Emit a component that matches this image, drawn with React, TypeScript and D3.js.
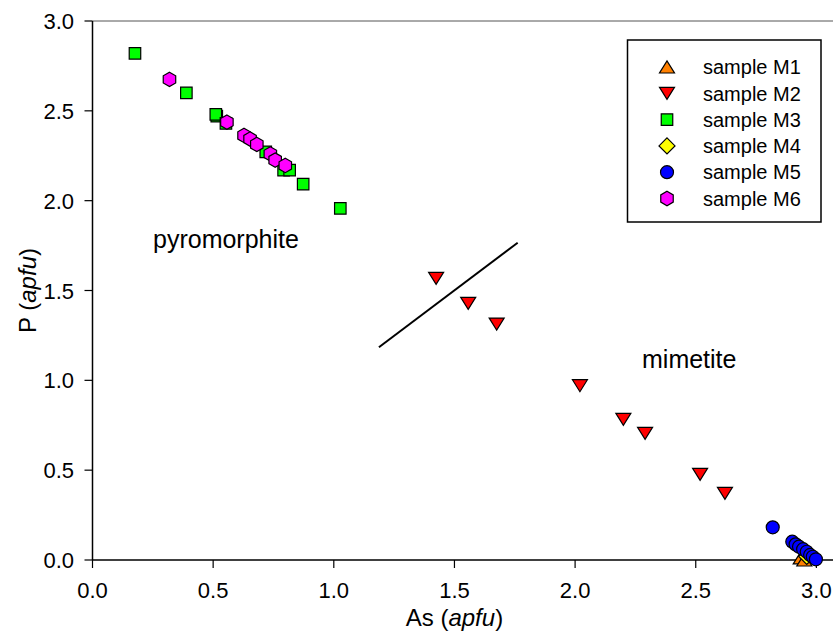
import React from "react";
import * as d3 from "d3";

const seriesNames = ["sample M1", "sample M2", "sample M3", "sample M4", "sample M5", "sample M6"];
const seriesColors = ["#FF8000", "#FF0000", "#00FF00", "#FFFF00", "#0000FF", "#FF00FF"];
const seriesShapes = ["triUp", "triDown", "square", "diamond", "circle", "hexagon"];

const m1As = [2.935, 2.95];
const m1P = [0.012, 0.0];

const m2As = [1.424, 1.557, 1.675, 2.02, 2.2, 2.29, 2.518, 2.621];
const m2P = [1.568, 1.428, 1.313, 0.97, 0.783, 0.705, 0.477, 0.371];

const m3As = [0.176, 0.389, 0.515, 0.511, 0.553, 0.718, 0.792, 0.817, 0.873, 1.027];
const m3P = [2.82, 2.6, 2.47, 2.48, 2.43, 2.272, 2.17, 2.17, 2.092, 1.957];

const m4As = [2.96];
const m4P = [0.02];

const m5As = [2.819, 2.9, 2.914, 2.928, 2.945, 2.96, 2.974, 2.985, 2.998];
const m5P = [0.182, 0.102, 0.087, 0.074, 0.06, 0.046, 0.028, 0.018, 0.004];

const m6As = [0.319, 0.557, 0.628, 0.653, 0.681, 0.737, 0.757, 0.799];
const m6P = [2.675, 2.437, 2.363, 2.343, 2.313, 2.26, 2.226, 2.196];

const seriesAs = [m1As, m2As, m3As, m4As, m5As, m6As];
const seriesP = [m1P, m2P, m3P, m4P, m5P, m6P];

const xTicks = [0, 0.5, 1.0, 1.5, 2.0, 2.5, 3.0];
const yTicks = [0, 0.5, 1.0, 1.5, 2.0, 2.5, 3.0];

const boundaryAs = [1.187, 1.762];
const boundaryP = [1.184, 1.766];

const FONT = "'Liberation Sans', Arial, sans-serif";

function shapePath(shape: string, cx: number, cy: number): string {
  switch (shape) {
    case "triUp": {
      const w = 15, h = 12;
      return `M${cx - w / 2},${cy + h / 2}L${cx + w / 2},${cy + h / 2}L${cx},${cy - h / 2}Z`;
    }
    case "triDown": {
      const w = 15, h = 12;
      return `M${cx - w / 2},${cy - h / 2}L${cx + w / 2},${cy - h / 2}L${cx},${cy + h / 2}Z`;
    }
    case "square": {
      const s = 11.5;
      return `M${cx - s / 2},${cy - s / 2}h${s}v${s}h${-s}Z`;
    }
    case "diamond": {
      const r = 8;
      return `M${cx},${cy - r}L${cx + r},${cy}L${cx},${cy + r}L${cx - r},${cy}Z`;
    }
    case "circle": {
      const r = 6.5;
      return `M${cx + r},${cy}A${r},${r} 0 1,1 ${cx - r},${cy}A${r},${r} 0 1,1 ${cx + r},${cy}Z`;
    }
    case "hexagon": {
      const r = 7.2;
      const pts = d3.range(6).map((i) => {
        const a = (Math.PI / 3) * i - Math.PI / 2;
        return [cx + r * Math.cos(a), cy + r * Math.sin(a)];
      });
      return "M" + pts.map((p) => p.join(",")).join("L") + "Z";
    }
  }
  return "";
}

export default function App() {
  const W = 833, H = 631;
  const x = d3.scaleLinear().domain([0, 3]).range([92.5, 816.4]);
  const y = d3.scaleLinear().domain([0, 3]).range([560, 21]);
  const fmt = d3.format(".1f");
  const line = d3.line<number>().x((_, i) => x(boundaryAs[i])).y((_, i) => y(boundaryP[i]));

  const legendX = 627.5, legendY = 40, legendW = 193.5, legendH = 182;

  return (
    <svg width={W} height={H} style={{ position: "absolute", left: 0, top: 0, background: "#fff" }}>
      <rect x={0} y={0} width={W} height={H} fill="#fff" />
      {/* frame top */}
      <line x1={x(0)} x2={W} y1={y(3)} y2={y(3)} stroke="#555" strokeWidth={1} />
      {/* axes */}
      <line x1={x(0)} x2={W} y1={y(0)} y2={y(0)} stroke="#000" strokeWidth={1.5} />
      <line x1={x(0)} x2={x(0)} y1={y(0)} y2={y(3)} stroke="#000" strokeWidth={1.5} />
      {xTicks.map((t) => (
        <g key={"xt" + t}>
          <line x1={x(t)} x2={x(t)} y1={y(0)} y2={y(0) + 8} stroke="#000" strokeWidth={1.2} />
          <text x={x(t)} y={598} textAnchor="middle" fontFamily={FONT} fontSize={22} fill="#000">
            {fmt(t)}
          </text>
        </g>
      ))}
      {yTicks.map((t) => (
        <g key={"yt" + t}>
          <line x1={x(0) - 8} x2={x(0)} y1={y(t)} y2={y(t)} stroke="#000" strokeWidth={1.2} />
          <text x={74} y={y(t) + 8} textAnchor="end" fontFamily={FONT} fontSize={22} fill="#000">
            {fmt(t)}
          </text>
        </g>
      ))}
      <text x={(x(0) + x(3)) / 2} y={626} textAnchor="middle" fontFamily={FONT} fontSize={24} fill="#000">
        As (<tspan fontStyle="italic">apfu</tspan>)
      </text>
      <text
        transform={`translate(36, ${(y(0) + y(3)) / 2}) rotate(-90)`}
        textAnchor="middle"
        fontFamily={FONT}
        fontSize={24}
        fill="#000"
      >
        P (<tspan fontStyle="italic">apfu</tspan>)
      </text>

      {/* boundary line */}
      <path d={line(boundaryAs) || ""} stroke="#000" strokeWidth={2} fill="none" />

      {/* annotations */}
      <text x={153} y={248} fontFamily={FONT} fontSize={25} fill="#000">pyromorphite</text>
      <text x={642} y={368} fontFamily={FONT} fontSize={25} fill="#000">mimetite</text>

      {/* data */}
      {seriesNames.map((name, si) => (
        <g key={name}>
          {seriesAs[si].map((a, i) => (
            <path
              key={i}
              d={shapePath(seriesShapes[si], x(a), y(seriesP[si][i]))}
              fill={seriesColors[si]}
              stroke="#000"
              strokeWidth={1.2}
            />
          ))}
        </g>
      ))}

      {/* legend */}
      <rect x={legendX} y={legendY} width={legendW} height={legendH} fill="#fff" stroke="#000" strokeWidth={1.5} />
      {seriesNames.map((name, si) => {
        const cy = 67 + si * 26.3;
        return (
          <g key={"lg" + name}>
            <path d={shapePath(seriesShapes[si], 667, cy)} fill={seriesColors[si]} stroke="#000" strokeWidth={1.2} />
            <text x={703} y={cy + 7.2} fontFamily={FONT} fontSize={20} fill="#000">
              {name}
            </text>
          </g>
        );
      })}
    </svg>
  );
}
